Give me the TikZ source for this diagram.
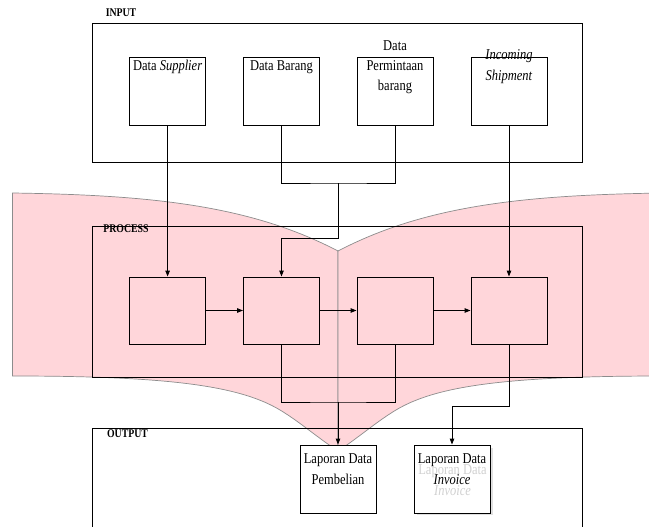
\documentclass[tikz,border=0pt]{standalone}
\usepackage{fontspec}
\setmainfont{Liberation Serif}
\usetikzlibrary{arrows.meta}
\definecolor{flagpink}{RGB}{255,214,218}
% narrow, tall lettering: stack lines and stretch them vertically
\newcommand{\tallstack}[1]{\scalebox{1}[1.2]{\begin{tabular}{@{}c@{}}#1\end{tabular}}}
\tikzset{
  blk/.style={draw=black, line width=0.9pt, minimum width=76pt, minimum height=68pt, inner sep=0pt},
  frame/.style={draw=black, line width=0.9pt},
  txt/.style={inner sep=0pt, align=center, font=\fontsize{12.5pt}{17pt}\selectfont},
  ghost/.style={txt, text=black!18},
  lbl/.style={inner sep=0pt, font=\fontsize{9.8pt}{11pt}\selectfont\bfseries},
  wire/.style={draw=black, line width=0.9pt},
  arr/.style={wire, -{Triangle[length=6pt,width=4.5pt]}},
  flag/.style={fill=flagpink, draw=black!45, line width=0.7pt}
}
\begin{document}
\begin{tikzpicture}[x=1pt, y=-1pt]
\useasboundingbox (0,0) rectangle (649,527);
\clip (0,0) rectangle (649,527);
\fill[white] (0,0) rectangle (649,527);

% two pink flag halves behind the process stage
\draw[flag] (12.5,193) .. controls (150,195) and (250,205) .. (338,251)
  -- (338,451) .. controls (318,438) and (300,422) .. (280,410)
  .. controls (240,386) and (170,376) .. (12.5,376) -- cycle;
\draw[flag] (338,251) .. controls (426,205) and (526,195) .. (663.5,193)
  -- (663.5,376) .. controls (506,376) and (436,386) .. (396,410)
  .. controls (376,422) and (358,438) .. (338,451) -- cycle;

% stage frames
\draw[frame] (92,23) rectangle (582,162);
\draw[frame] (92,226) rectangle (582,377);
\draw[frame] (92,540) -- (92,428) -- (582,428) -- (582,540);
\node[lbl] (linput) at (121,14) {\tallstack{INPUT}};
\node[lbl] (lprocess) at (126,230) {\tallstack{PROCESS}};
\node[lbl] (loutput) at (127.5,435) {\tallstack{OUTPUT}};

% input boxes
\node[blk] (i1) at (167.6,91) {};
\node[blk] (i2) at (281.5,91) {};
\node[blk] (i3) at (395,91) {};
\node[blk] (i4) at (509,91) {};
\node[txt] (ti1) at (167.6,66) {\tallstack{Data \textit{Supplier}}};
\node[txt] (ti2) at (281.5,66) {\tallstack{Data Barang}};
\node[txt] (ti3) at (395,66.5) {\tallstack{Data\\Permintaan\\barang}};
\node[txt] (ti4) at (509,66) {\tallstack{\textit{Incoming}\\\textit{Shipment}}};

% process boxes
\node[blk, minimum height=67pt] (p1) at (167.6,310.5) {};
\node[blk, minimum height=67pt] (p2) at (281.5,310.5) {};
\node[blk, minimum height=67pt] (p3) at (395,310.5) {};
\node[blk, minimum height=67pt] (p4) at (509,310.5) {};

% output boxes
\fill[black!12] (416.5,447.5) rectangle (492.5,515);
\node[blk, fill=white] (o1) at (338,479) {};
\node[blk, fill=white] (o2) at (452,479) {};
\node[txt] (to1) at (338,470) {\tallstack{Laporan Data\\Pembelian}};
\node[ghost] (tg2) at (452.5,481) {\tallstack{Laporan Data\\\textit{Invoice}}};
\node[txt] (to2) at (452,470) {\tallstack{Laporan Data\\\textit{Invoice}}};

% input to process
\draw[arr] (i1.south) -- (p1.north);
\coordinate (j1) at (338.6,183);
\coordinate (j2) at (338.6,238);
\draw[wire] (i2.south) |- (j1) -| (i3.south);
\draw[arr] (j1) -- (j2) -| (p2.north);
\draw[arr] (i4.south) -- (p4.north);

% process chain
\draw[arr] (p1.east) -- (p2.west);
\draw[arr] (p2.east) -- (p3.west);
\draw[arr] (p3.east) -- (p4.west);

% process to output
\coordinate (j3) at (338,402);
\coordinate (j4) at (452,406);
\draw[wire] (p2.south) |- (j3) -| (p3.south);
\draw[arr] (j3) -- (o1.north);
\draw[arr] (p4.south) |- (j4) -- (o2.north);
\end{tikzpicture}
\end{document}
